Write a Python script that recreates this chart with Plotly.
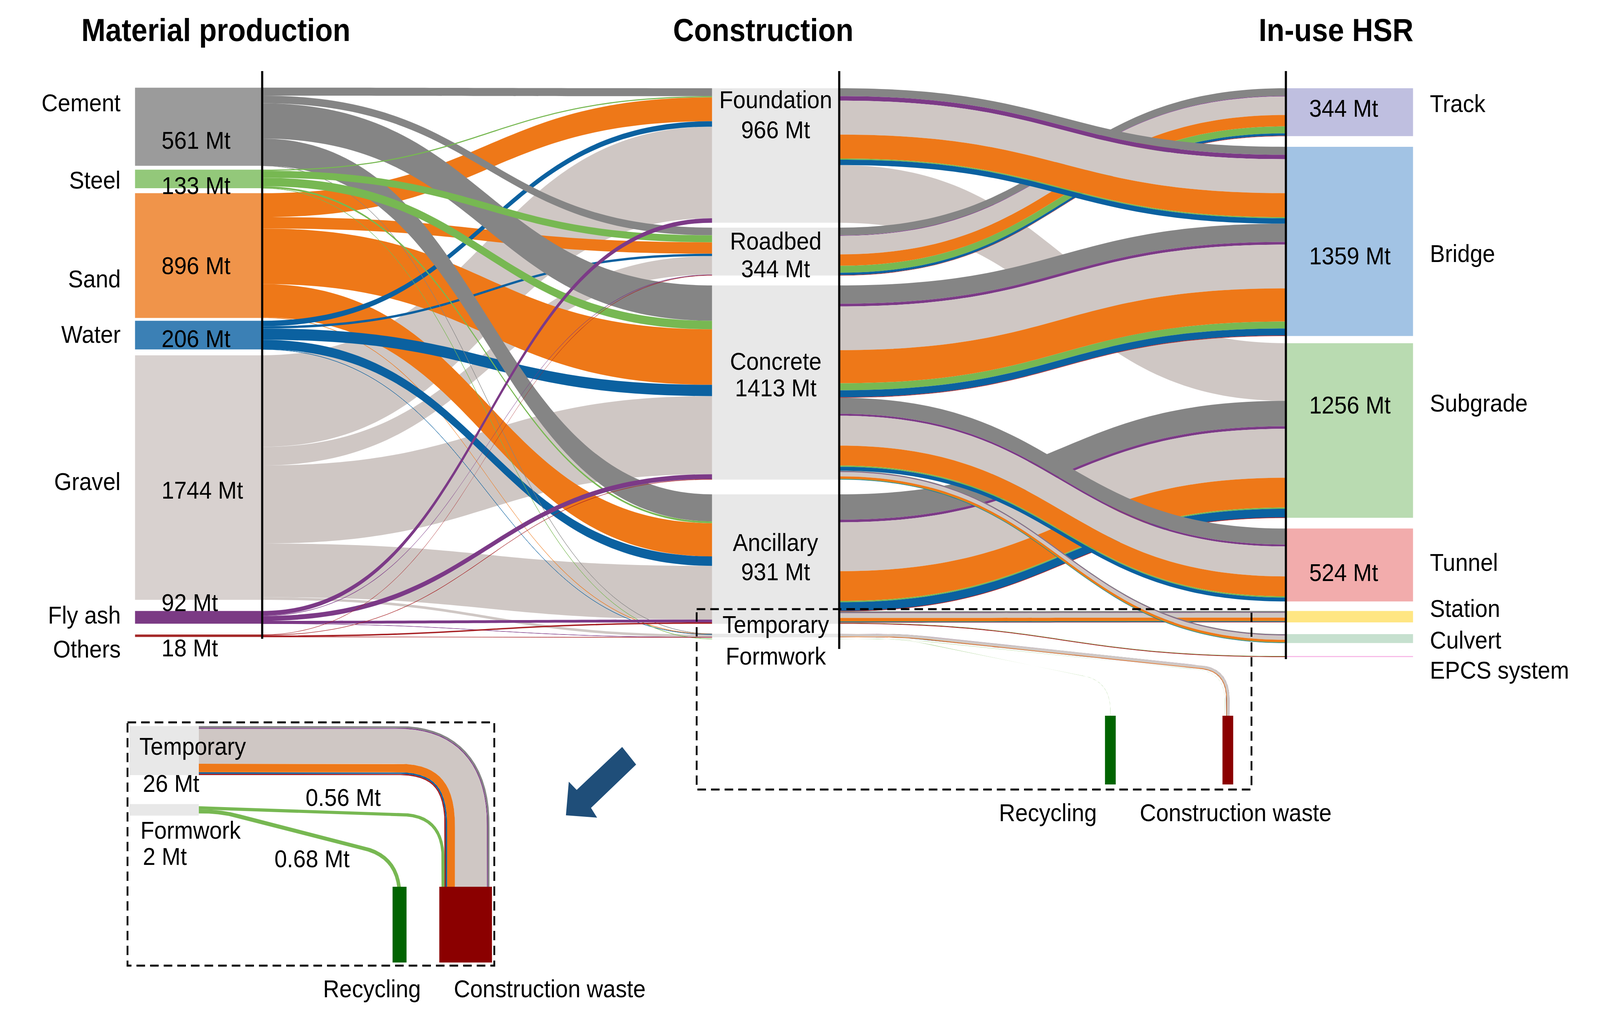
import numpy as np
import plotly.graph_objects as go

W, H = 4467, 2602

# ---------------------------------------------------------------- data
materials = ["Cement", "Steel", "Sand", "Water", "Gravel", "Fly ash", "Others"]
material_totals = ["561 Mt", "133 Mt", "896 Mt", "206 Mt", "1744 Mt", "92 Mt", "18 Mt"]
elements = ["Foundation", "Roadbed", "Concrete", "Ancillary", "Temporary", "Formwork"]
element_totals = ["966 Mt", "344 Mt", "1413 Mt", "931 Mt"]
components = ["Track", "Bridge", "Subgrade", "Tunnel", "Station", "Culvert", "EPCS system"]
component_totals = ["344 Mt", "1359 Mt", "1256 Mt", "524 Mt"]
sinks = ["Recycling", "Construction waste"]
stage_titles = ["Material production", "Construction", "In-use HSR"]

# material order of the strands inside every flow (top to bottom)
strand_materials = ["Cement", "Fly ash", "Gravel", "Sand", "Steel", "Water", "Others"]

# construction element -> in-use component, Mt per strand material
foundation_bridge = [57, 32, 244, 172, 8, 39, 0]
foundation_subgrade = [0, 0, 414, 0, 0, 0, 0]
roadbed_track = [55, 4, 133, 82, 50, 17, 3]
concrete_bridge = [131, 20, 314, 238, 50, 50, 4]
concrete_tunnel = [115, 14, 215, 143, 9, 28, 0]
concrete_culvert = [8, 1, 32, 18, 2, 3, 0]
ancillary_subgrade = [182, 19, 351, 214, 9, 63, 2]
ancillary_station = [12, 1, 35, 25, 1, 5, 3]
ancillary_epcs = [0, 0, 0, 0, 3, 0, 5]
# temporary works -> end of life
temporary_waste = [1, 0.5, 18.5, 4.5, 0, 0.8, 0.7]
formwork_recycling = [0, 0, 0, 0, 0.68, 0, 0]
formwork_waste = [0, 0, 0, 0, 0.56, 0, 0]

inset_node_texts = ["Temporary", "26 Mt", "Formwork", "2 Mt"]
inset_flow_texts = ["0.56 Mt", "0.68 Mt"]
inset_temporary_value = 26
inset_formwork_value = 2

# ---------------------------------------------------------------- styles
link_colors = {"Cement": "#858585", "Steel": "#77b852", "Sand": "#ee7818",
               "Water": "#0b61a0", "Gravel": "#cfc7c4", "Fly ash": "#7c3a87",
               "Others": "#a61e22"}
material_node_colors = ["#9b9b9b", "#93c87a", "#f0944a", "#3b80b5",
                        "#d8d1cf", "#7b3a84", "#a52a2a"]
element_node_color = "#e8e8e8"
component_node_colors = ["#bfbfe0", "#a2c3e4", "#b9dbb1", "#f2acac",
                         "#ffe683", "#c6e0cf", "#f7b9e8"]
recycling_color = "#006400"
waste_color = "#8b0000"
arrow_color = "#1f4e79"
FONT = "Liberation Sans, Arial, sans-serif"
FS = 63
FS_TITLE = 81

# ---------------------------------------------------------------- geometry (pixels)
T = 355                       # node thickness
KY = 0.3565                   # px per Mt
x_line = [732, 2343, 3590]    # black column lines
col_x = [x_line[0] - T / 2, x_line[1] - T / 2, x_line[2] + T / 2]
mat_tops = [224.6, 434.5, 494.7, 821.5, 910, 1564.7, 1625]
elem_tops = [226, 583, 731, 1266, 1623, 1636]
comp_tops = [226, 376, 879, 1353.5, 1564.7, 1624, 1680]

# ---------------------------------------------------------------- sankey links
stage1_draw_order = ["Gravel", "Sand", "Water", "Cement", "Steel", "Fly ash", "Others"]
stage2 = [  # drawing order: bottom -> top
    ("Foundation", "Subgrade", foundation_subgrade),
    ("Ancillary", "Subgrade", ancillary_subgrade),
    ("Ancillary", "Station", ancillary_station),
    ("Ancillary", "EPCS system", ancillary_epcs),
    ("Concrete", "Culvert", concrete_culvert),
    ("Concrete", "Tunnel", concrete_tunnel),
    ("Concrete", "Bridge", concrete_bridge),
    ("Roadbed", "Track", roadbed_track),
    ("Foundation", "Bridge", foundation_bridge),
]
end_of_life = [("Temporary", temporary_waste), ("Formwork", formwork_recycling),
               ("Formwork", formwork_waste)]

n_m, n_e, n_c = len(materials), len(elements), len(components)
idx = {}
for i, m in enumerate(materials):
    idx[("m", m)] = i
for j, e in enumerate(elements):
    idx[("e", e)] = n_m + j
for k, c in enumerate(components):
    idx[("c", c)] = n_m + n_e + k
N = n_m + n_e + n_c

# material -> element inputs, by conservation of the outgoing flows
inputs = {(m, e): 0.0 for m in materials for e in elements}
for e, c, vals in stage2:
    for m, v in zip(strand_materials, vals):
        inputs[(m, e)] += v
for e, vals in end_of_life:
    for m, v in zip(strand_materials, vals):
        inputs[(m, e)] += v

src, tgt, val, col = [], [], [], []
for m in stage1_draw_order:
    for e in elements:
        v = inputs[(m, e)]
        if v > 0:
            src.append(idx[("m", m)]); tgt.append(idx[("e", e)])
            val.append(v); col.append(link_colors[m])
for e, c, vals in stage2:
    for m, v in zip(strand_materials, vals):
        if v > 0:
            src.append(idx[("e", e)]); tgt.append(idx[("c", c)])
            val.append(v); col.append(link_colors[m])

# node values and d3-sankey columns (justify) to choose the padding giving KY
inn = np.zeros(N); out = np.zeros(N)
for s, t, v in zip(src, tgt, val):
    out[s] += v; inn[t] += v
nval = np.maximum(inn, out)
depth = [0] * N
current, x = set(range(N)), 0
while current:
    nxt = set()
    for i in current:
        depth[i] = x
        for s, t in zip(src, tgt):
            if s == i:
                nxt.add(t)
    current, x = nxt, x + 1
has_out = set(src)
layer = [depth[i] if i in has_out else x - 1 for i in range(N)]
pads = []
for L in set(layer):
    members = [i for i in range(N) if layer[i] == L]
    if len(members) > 1:
        pads.append((H - KY * nval[members].sum()) / (len(members) - 1))
pad = max(min(pads), 1)

tops = mat_tops + elem_tops + comp_tops
node_xc = [col_x[0]] * n_m + [col_x[1]] * n_e + [col_x[2]] * n_c
node_yc = [tops[i] + nval[i] * KY / 2 for i in range(N)]
node_colors = material_node_colors + [element_node_color] * n_e + component_node_colors

fig = go.Figure()

# ---------------------------------------------------------------- ribbon helpers
def smooth_path(vertices, corners, step=2.0):
    V = [np.asarray(v, float) for v in vertices]
    pts = [V[0]]
    for i in range(1, len(V) - 1):
        a, b, c = V[i - 1], V[i], V[i + 1]
        d1 = b - a; l1 = np.hypot(*d1); d1 = d1 / l1
        d2 = c - b; l2 = np.hypot(*d2); d2 = d2 / l2
        lim1 = 0.95 * l1 if i == 1 else 0.5 * l1
        lim2 = 0.95 * l2 if i == len(V) - 2 else 0.5 * l2
        Lc = min(corners[i - 1], lim1, lim2)
        A = b - d1 * Lc; B = b + d2 * Lc
        t = np.linspace(0, 1, 80)[:, None]
        pts.extend(list((1 - t) ** 2 * A + 2 * (1 - t) * t * b + t ** 2 * B))
    pts.append(V[-1])
    P = np.array(pts)
    seg = np.hypot(*np.diff(P, axis=0).T)
    P = P[np.concatenate([[True], seg > 1e-9])]
    s = np.concatenate([[0], np.cumsum(np.hypot(*np.diff(P, axis=0).T))])
    n = max(int(s[-1] / step), 3)
    ss = np.linspace(0, s[-1], n)
    return np.column_stack([np.interp(ss, s, P[:, 0]), np.interp(ss, s, P[:, 1])])


def add_bundle(path, widths, colors):
    d = np.gradient(path, axis=0)
    d /= np.hypot(d[:, 0], d[:, 1])[:, None]
    nrm = np.column_stack([d[:, 1], -d[:, 0]])
    o_top = sum(widths) / 2
    for w, c in zip(widths, colors):
        if w <= 0:
            continue
        o2, o1 = o_top, o_top - w
        o_top = o1
        up = path + nrm * o2
        lo = path + nrm * o1
        poly = np.vstack([up, lo[::-1], up[:1]])
        fig.add_trace(go.Scatter(x=poly[:, 0], y=poly[:, 1], mode="lines", fill="toself",
                                 fillcolor=c, line=dict(width=0, color=c),
                                 hoverinfo="skip", showlegend=False))

strand_colors = [link_colors[m] for m in strand_materials]

# ---------------------------------------------------------------- main end-of-life flows
bar_top, bar_bottom = 1833, 2009
main_rec_x, main_waste_x = (3085, 3115), (3413, 3443)
t_i = idx[("e", "Temporary")]; f_i = idx[("e", "Formwork")]
ty, fy = node_yc[t_i], node_yc[f_i]
add_bundle(smooth_path([(x_line[1], ty), (2520, ty), (3428, 1716), (3428, 1860)], [70, 75]),
           [v * KY for v in temporary_waste], strand_colors)
add_bundle(smooth_path([(x_line[1], fy), (2520, fy), (sum(main_rec_x) / 2, 1745),
                        (sum(main_rec_x) / 2, 1860)], [70, 75]),
           [v * KY for v in formwork_recycling], strand_colors)
add_bundle(smooth_path([(x_line[1], fy), (2520, fy), (3420, 1722), (3420, 1860)], [70, 75]),
           [v * KY for v in formwork_waste], strand_colors)

# ---------------------------------------------------------------- inset flows
inset_box_x = (361, 555)
inset_scale_t = 4.83
inset_scale_f = 14.8
inset_t_top = 1859.5
inset_f_center = 2074
in_rec_x, in_waste_x = (1096, 1135), (1226.5, 1373.5)
in_bar_top, in_bar_bottom = 2271, 2465
t_w = [v * inset_scale_t for v in temporary_waste]
t_c = inset_t_top + sum(t_w) / 2
t_vx = 1241 + sum(t_w) / 2
add_bundle(smooth_path([(inset_box_x[1], t_c), (t_vx, t_c), (t_vx, 2300)], [190]),
           t_w, strand_colors)
fw_w = sum(formwork_waste) * inset_scale_f
fr_w = sum(formwork_recycling) * inset_scale_f
f_top = inset_f_center - (fw_w + fr_w) / 2
add_bundle(smooth_path([(inset_box_x[1], f_top + fw_w / 2), (1237, f_top + fw_w / 2 + 21),
                        (1237, 2300)], [110]),
           [fw_w], [link_colors["Steel"]])
yr = f_top + fw_w + fr_w / 2
add_bundle(smooth_path([(inset_box_x[1], yr), (615, yr), (sum(in_rec_x) / 2, yr + 118),
                        (sum(in_rec_x) / 2, 2300)], [50, 100]),
           [fr_w], [link_colors["Steel"]])

# ---------------------------------------------------------------- sankey
fig.add_trace(go.Sankey(
    arrangement="fixed",
    domain=dict(x=[0, 1], y=[0, 1]),
    node=dict(label=[""] * N, x=[v / W for v in node_xc], y=[v / H for v in node_yc],
              thickness=T, pad=pad, color=node_colors, line=dict(width=0),
              align="justify", hoverinfo="none"),
    link=dict(source=src, target=tgt, value=val, color=col, hoverinfo="none"),
    textfont=dict(size=1, color="rgba(0,0,0,0)"),
))

# ---------------------------------------------------------------- shapes
shapes = []
line_bottoms = [1636, 1662, 1688]
for xl, yb in zip(x_line, line_bottoms):
    shapes.append(dict(type="line", x0=xl, x1=xl, y0=182, y1=yb, xref="x", yref="y",
                       line=dict(color="black", width=6), layer="above"))
for (x0, x1), c in [(main_rec_x, recycling_color), (main_waste_x, waste_color)]:
    shapes.append(dict(type="rect", x0=x0, x1=x1, y0=bar_top, y1=bar_bottom, xref="x",
                       yref="y", fillcolor=c, line=dict(width=0), layer="above"))
for (x0, x1), c in [(in_rec_x, recycling_color), (in_waste_x, waste_color)]:
    shapes.append(dict(type="rect", x0=x0, x1=x1, y0=in_bar_top, y1=in_bar_bottom, xref="x",
                       yref="y", fillcolor=c, line=dict(width=0), layer="above"))
shapes.append(dict(type="rect", x0=inset_box_x[0], x1=inset_box_x[1], y0=inset_t_top,
                   y1=inset_t_top + inset_temporary_value * inset_scale_t, xref="x", yref="y",
                   fillcolor=element_node_color, line=dict(width=0), layer="above"))
shapes.append(dict(type="rect", x0=inset_box_x[0], x1=inset_box_x[1],
                   y0=inset_f_center - inset_formwork_value * inset_scale_f / 2,
                   y1=inset_f_center + inset_formwork_value * inset_scale_f / 2,
                   xref="x", yref="y", fillcolor=element_node_color, line=dict(width=0),
                   layer="above"))
for x0, x1, y0, y1 in [(1945, 3494, 1560, 2022), (356, 1380, 1850, 2473)]:
    shapes.append(dict(type="rect", x0=x0, x1=x1, y0=y0, y1=y1, xref="x", yref="y",
                       line=dict(color="black", width=5, dash="24px,14px"),
                       fillcolor="rgba(0,0,0,0)", layer="above"))
arrow = [(1580, 2088), (1588, 2002), (1610, 2023), (1737, 1913), (1776, 1958),
         (1650, 2069), (1667, 2094)]
shapes.append(dict(type="path", xref="x", yref="y",
                   path="M " + " L ".join(f"{a},{b}" for a, b in arrow) + " Z",
                   fillcolor=arrow_color, line=dict(width=0), layer="above"))

# ---------------------------------------------------------------- annotations
ann = []


def text(s, x, y, anchor="center", size=FS):
    ann.append(dict(text=s, x=x, y=y, xref="x", yref="y", showarrow=False, xanchor=anchor,
                    yanchor="middle", font=dict(family=FONT, size=size, color="black")))


for s, xc in zip(stage_titles, [603, 2131, 3730]):
    text(f"<b>{s}</b>", xc, 77, size=FS_TITLE)
for s, y in zip(materials, [262.6, 461, 713.5, 856, 1233, 1574.5, 1662]):
    text(s, 339, y, "right")
for s, y in zip(material_totals, [358.6, 474.6, 680, 867, 1254.7, 1543, 1659]):
    text(s, 449, y, "left")
for s, y in zip(elements[:4], [255, 617, 925, 1388.8]):
    text(s, col_x[1], y)
for s, y in zip(element_totals, [331.5, 687.6, 993, 1463.8]):
    text(s, col_x[1], y)
text(elements[4], col_x[1], 1599)
text(elements[5], col_x[1], 1679.6)
for s, y in zip(component_totals, [277, 654.5, 1037, 1465.7]):
    text(s, 3653, y, "left")
for s, y in zip(components, [264.7, 649, 1032, 1440, 1557.5, 1639, 1715.7]):
    text(s, 3989.5, y, "left")
text(sinks[0], 2925, 2081)
text(sinks[1], 3450, 2081)
for s, (xx, yy) in zip(inset_node_texts, [(387, 1911), (397, 2006), (390, 2126), (397, 2193)]):
    text(s, xx, yy, "left")
text(inset_flow_texts[0], 851, 2042, "left")
text(inset_flow_texts[1], 764, 2199, "left")
text(sinks[0], 1038, 2532)
text(sinks[1], 1535, 2532)

fig.update_layout(
    width=W, height=H, margin=dict(l=0, r=0, t=0, b=0, pad=0),
    paper_bgcolor="white", plot_bgcolor="rgba(0,0,0,0)", showlegend=False,
    font=dict(family=FONT, color="black"),
    xaxis=dict(range=[0, W], visible=False, fixedrange=True, domain=[0, 1]),
    yaxis=dict(range=[H, 0], visible=False, fixedrange=True, domain=[0, 1]),
    shapes=shapes, annotations=ann,
)

# fit the fixed-size figure into the whole CSS viewport of the browser window
fit_js = """
document.documentElement.style.overflow = 'hidden';
document.body.style.overflow = 'hidden';
document.body.style.margin = '0px';
var gd = document.getElementById('{plot_id}');
var vw = window.innerWidth, vh = window.innerHeight;
var kx = vw / %d, ky = vh / %d;
gd.style.transformOrigin = '0 0';
gd.style.transform = 'scale(' + kx + ',' + ky + ')';
var wrap = gd.parentElement;
wrap.style.width = vw + 'px';
wrap.style.height = vh + 'px';
wrap.style.overflow = 'hidden';
""" % (W, H)
fig.write_html("out.html", post_script=fit_js, config={"displayModeBar": False})
